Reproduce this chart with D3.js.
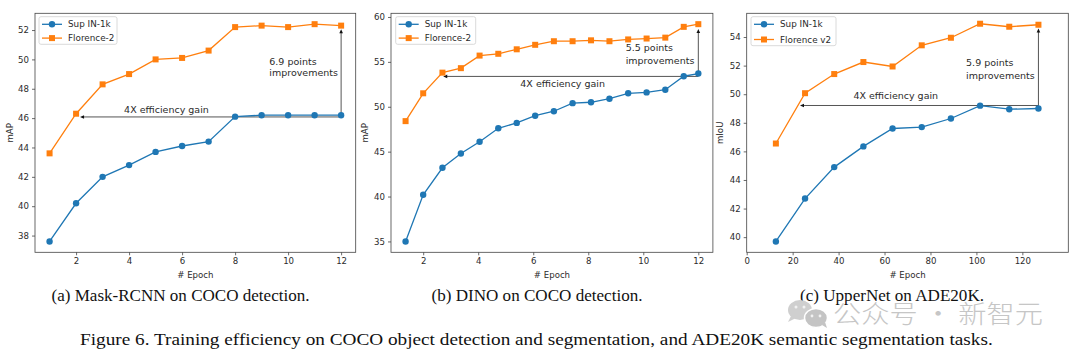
<!DOCTYPE html>
<html><head><meta charset="utf-8">
<script src="https://cdn.jsdelivr.net/npm/d3@7/dist/d3.min.js"></script>
<style>html,body{margin:0;padding:0;background:#fff;}svg{display:block;}</style>
</head><body>
<script>
// ---------- DATA ----------
const seriesNamesA = ["Sup IN-1k", "Florence-2"];
const seriesNamesB = ["Sup IN-1k", "Florence-2"];
const seriesNamesC = ["Sup IN-1k", "Florence v2"];

const epochsA = [1, 2, 3, 4, 5, 6, 7, 8, 9, 10, 11, 12];
const supA  = [37.6, 40.2, 42.0, 42.8, 43.7, 44.1, 44.4, 46.1, 46.2, 46.2, 46.2, 46.2];
const florA = [43.6, 46.3, 48.3, 49.0, 50.0, 50.1, 50.6, 52.2, 52.3, 52.2, 52.4, 52.3];

const epochsB = [1.36, 2.0, 2.7, 3.37, 4.05, 4.73, 5.4, 6.07, 6.75, 7.43, 8.1, 8.77, 9.45, 10.12, 10.8, 11.47, 12.0];
const supB  = [35.0, 40.2, 43.2, 44.8, 46.1, 47.6, 48.2, 49.0, 49.5, 50.4, 50.5, 50.9, 51.5, 51.6, 51.9, 53.4, 53.7];
const florB = [48.4, 51.5, 53.8, 54.3, 55.7, 55.9, 56.4, 56.9, 57.3, 57.3, 57.4, 57.3, 57.5, 57.6, 57.7, 58.9, 59.2];

const epochsC = [12.7, 25.4, 38.1, 50.8, 63.5, 76.2, 88.9, 101.6, 114.3, 127.0];
const supC  = [39.7, 42.7, 44.9, 46.35, 47.6, 47.7, 48.3, 49.2, 48.95, 49.0];
const florC = [46.55, 50.07, 51.41, 52.25, 51.94, 53.42, 53.95, 54.93, 54.72, 54.86];

const xTicksA = [2, 4, 6, 8, 10, 12];
const yTicksA = [38, 40, 42, 44, 46, 48, 50, 52];
const xTicksB = [2, 4, 6, 8, 10, 12];
const yTicksB = [35, 40, 45, 50, 55, 60];
const xTicksC = [0, 20, 40, 60, 80, 100, 120];
const yTicksC = [40, 42, 44, 46, 48, 50, 52, 54];

const yLabels = ["mAP", "mAP", "mIoU"];
const xLabel = "# Epoch";

// annotations (data coordinates): horizontal gain arrow [xFrom, xTo, y], vertical arrow [x, yFrom, yTo]
const gainArrowA = [12, 2.15, 46.08];
const gainArrowB = [12, 2.73, 53.38];
const gainArrowC = [127, 23.2, 49.21];
const improveArrowA = [12, 46.2, 52.05];
const improveArrowB = [12, 53.7, 58.65];
const improveArrowC = [127, 49.0, 54.6];
const gainText = "4X efficiency gain";
const gainTextPosA = [5.41, 46.58];
const gainTextPosB = [7.07, 52.6];
const gainTextPosC = [64.9, 49.89];
const improveTextA = ["6.9 points", "improvements"];
const improveTextB = ["5.5 points", "improvements"];
const improveTextC = ["5.9 points", "improvements"];
const improveTextPosA = [9.29, 49.87, 49.1];
const improveTextPosB = [9.36, 56.57, 55.2];
const improveTextPosC = [95.5, 52.2, 51.33];

const subCaptions = ["(a) Mask-RCNN on COCO detection.", "(b) DINO on COCO detection.", "(c) UpperNet on ADE20K."];
const figCaption = "Figure 6. Training efficiency on COCO object detection and segmentation, and ADE20K semantic segmentation tasks.";
const watermark = "公众号 · 新智元";

// ---------- LAYOUT ----------
const W = 1080, H = 358;
const BLUE = "#1f77b4", ORANGE = "#ff7f0e";
const svg = d3.select("body").append("svg").attr("width", W).attr("height", H);

const panels = [
  {l: 35, r: 355.7, xDom: [0.45, 12.55], yDom: [36.86, 53.14], ex: epochsA, s1: supA, s2: florA, names: seriesNamesA,
   xt: xTicksA, yt: yTicksA, yl: yLabels[0], ylx: 10, leg: [39, 16.7, 78, 27.6],
   ga: gainArrowA, ia: improveArrowA, gt: gainTextPosA, it: improveTextA, itp: improveTextPosA},
  {l: 391, r: 712.9, xDom: [0.83, 12.53], yDom: [33.79, 60.41], ex: epochsB, s1: supB, s2: florB, names: seriesNamesB,
   xt: xTicksB, yt: yTicksB, yl: yLabels[1], ylx: 365, leg: [395.7, 16.7, 80, 27.6],
   ga: gainArrowB, ia: improveArrowB, gt: gainTextPosB, it: improveTextB, itp: improveTextPosB},
  {l: 746.7, r: 1068.3, xDom: [0, 140], yDom: [38.94, 55.66], ex: epochsC, s1: supC, s2: florC, names: seriesNamesC,
   xt: xTicksC, yt: yTicksC, yl: yLabels[2], ylx: 720, leg: [751, 16.7, 85, 29],
   ga: gainArrowC, ia: improveArrowC, gt: gainTextPosC, it: improveTextC, itp: improveTextPosC}
];
const TOP = 13.3, BOT = 252.3;
const FONT = "DejaVu Sans, sans-serif";
const TXT = "#2b2b2b";

panels.forEach(p => {
  const x = d3.scaleLinear().domain(p.xDom).range([p.l, p.r]);
  const y = d3.scaleLinear().domain(p.yDom).range([BOT, TOP]);
  const g = svg.append("g");

  // axes
  const xa = g.append("g").attr("transform", `translate(0,${BOT})`)
    .call(d3.axisBottom(x).tickValues(p.xt).tickSize(3).tickPadding(2.5).tickFormat(d3.format("d")));
  const ya = g.append("g").attr("transform", `translate(${p.l},0)`)
    .call(d3.axisLeft(y).tickValues(p.yt).tickSize(3).tickPadding(3).tickFormat(d3.format("d")));
  [xa, ya].forEach(a => {
    a.select(".domain").remove();
    a.selectAll(".tick line").attr("stroke", "#444").attr("stroke-width", 0.8);
    a.selectAll(".tick text").attr("fill", TXT).style("font-family", FONT).style("font-size", "8.6px");
  });
  // frame
  g.append("rect").attr("x", p.l).attr("y", TOP).attr("width", p.r - p.l).attr("height", BOT - TOP)
    .attr("fill", "none").attr("stroke", "#444").attr("stroke-width", 0.8);

  // axis labels
  g.append("text").attr("x", (p.l + p.r) / 2).attr("y", 275).attr("text-anchor", "middle")
    .attr("dominant-baseline", "central").attr("fill", TXT)
    .style("font-family", FONT).style("font-size", "8.6px").text(xLabel);
  g.append("text").attr("transform", `translate(${p.ylx},${(TOP + BOT) / 2}) rotate(-90)`)
    .attr("text-anchor", "middle").attr("dominant-baseline", "central").attr("fill", TXT)
    .style("font-family", FONT).style("font-size", "8.6px").text(p.yl);

  // annotation arrows
  const AC = "#555";
  const hy = y(p.ga[2]), hx1 = x(p.ga[0]), hx2 = x(p.ga[1]);
  g.append("line").attr("x1", hx1).attr("y1", hy).attr("x2", hx2 + 3).attr("y2", hy)
    .attr("stroke", AC).attr("stroke-width", 1);
  g.append("path").attr("d", `M${hx2},${hy}L${hx2 + 4},${hy - 1.8}L${hx2 + 4},${hy + 1.8}Z`).attr("fill", "#111");
  const vx = x(p.ia[0]), vy1 = y(p.ia[1]), vy2 = y(p.ia[2]);
  g.append("line").attr("x1", vx).attr("y1", vy1).attr("x2", vx).attr("y2", vy2 + 3)
    .attr("stroke", AC).attr("stroke-width", 1);
  g.append("path").attr("d", `M${vx},${vy2}L${vx - 1.8},${vy2 + 4}L${vx + 1.8},${vy2 + 4}Z`).attr("fill", "#111");

  g.append("text").attr("x", x(p.gt[0])).attr("y", y(p.gt[1])).attr("text-anchor", "middle")
    .attr("dominant-baseline", "central").attr("fill", TXT)
    .style("font-family", FONT).style("font-size", "9.5px").text(gainText);
  p.it.forEach((t, i) => {
    g.append("text").attr("x", x(p.itp[0])).attr("y", y(p.itp[1 + i]))
      .attr("dominant-baseline", "central").attr("fill", TXT)
      .style("font-family", FONT).style("font-size", "9.5px").text(t);
  });

  // series
  const line = d3.line().x((d, i) => x(p.ex[i])).y(d => y(d));
  [[p.s1, BLUE, "circle"], [p.s2, ORANGE, "square"]].forEach(([vals, col, mk]) => {
    g.append("path").datum(vals).attr("d", line).attr("fill", "none").attr("stroke", col).attr("stroke-width", 1.3);
    if (mk === "circle") {
      g.selectAll(null).data(vals).enter().append("circle")
        .attr("cx", (d, i) => x(p.ex[i])).attr("cy", d => y(d)).attr("r", 3.2).attr("fill", col);
    } else {
      g.selectAll(null).data(vals).enter().append("rect")
        .attr("x", (d, i) => x(p.ex[i]) - 3).attr("y", d => y(d) - 3).attr("width", 6).attr("height", 6).attr("fill", col);
    }
  });

  // legend
  const [lx, ly, lw, lh] = p.leg;
  g.append("rect").attr("x", lx).attr("y", ly).attr("width", lw).attr("height", lh).attr("rx", 2)
    .attr("fill", "white").attr("fill-opacity", 0.85).attr("stroke", "#d0d0d0").attr("stroke-width", 0.8);
  [[BLUE, "circle"], [ORANGE, "square"]].forEach(([col, mk], i) => {
    const ry = ly + 7.6 + i * (lh - 14.6 + 0.8);
    g.append("line").attr("x1", lx + 3).attr("x2", lx + 23).attr("y1", ry).attr("y2", ry)
      .attr("stroke", col).attr("stroke-width", 1.3);
    if (mk === "circle") g.append("circle").attr("cx", lx + 13).attr("cy", ry).attr("r", 3.2).attr("fill", col);
    else g.append("rect").attr("x", lx + 10).attr("y", ry - 3).attr("width", 6).attr("height", 6).attr("fill", col);
    g.append("text").attr("x", lx + 29).attr("y", ry).attr("dominant-baseline", "central").attr("fill", TXT)
      .style("font-family", FONT).style("font-size", "8.8px").text(p.names[i]);
  });
});

// sub captions
const SERIF = "Liberation Serif, Times New Roman, serif";
const capCenters = [180.5, 537, 892];
const capWidths = [258, 211, 184];
subCaptions.forEach((c, i) => {
  svg.append("text").attr("x", capCenters[i]).attr("y", 300.7).attr("text-anchor", "middle")
    .attr("textLength", capWidths[i]).attr("lengthAdjust", "spacingAndGlyphs")
    .attr("fill", "#111").style("font-family", SERIF).style("font-size", "17px").text(c);
});

// watermark (drawn before figure caption, behind)
const wm = svg.append("g");
wm.append("ellipse").attr("cx", 800).attr("cy", 310).attr("rx", 12).attr("ry", 10).attr("fill", "#cfcfcf");
wm.append("path").attr("d", "M791,316 L788,322 L796,318 Z").attr("fill", "#cfcfcf");
wm.append("ellipse").attr("cx", 816).attr("cy", 318).attr("rx", 11.5).attr("ry", 9.5).attr("fill", "#c4c4c4")
  .attr("stroke", "#fff").attr("stroke-width", 1.5);
wm.append("path").attr("d", "M822,325 L827,328 L825,322 Z").attr("fill", "#c4c4c4");
[[796, 307], [804, 307]].forEach(([cx, cy]) => wm.append("circle").attr("cx", cx).attr("cy", cy).attr("r", 1.5).attr("fill", "#f2f2f2"));
[[812, 316], [820, 316]].forEach(([cx, cy]) => wm.append("circle").attr("cx", cx).attr("cy", cy).attr("r", 1.4).attr("fill", "#f2f2f2"));
wm.append("text").attr("x", 833).attr("y", 323).attr("textLength", 210).attr("lengthAdjust", "spacingAndGlyphs")
  .attr("fill", "#c6c6c6").style("font-family", "Noto Sans CJK SC").style("font-weight", 300).style("font-size", "25px")
  .text(watermark);

svg.append("text").attr("x", 80).attr("y", 345).attr("textLength", 912.7).attr("lengthAdjust", "spacingAndGlyphs")
  .attr("fill", "#111").style("font-family", SERIF).style("font-size", "17px").text(figCaption);
</script>
</body></html>
